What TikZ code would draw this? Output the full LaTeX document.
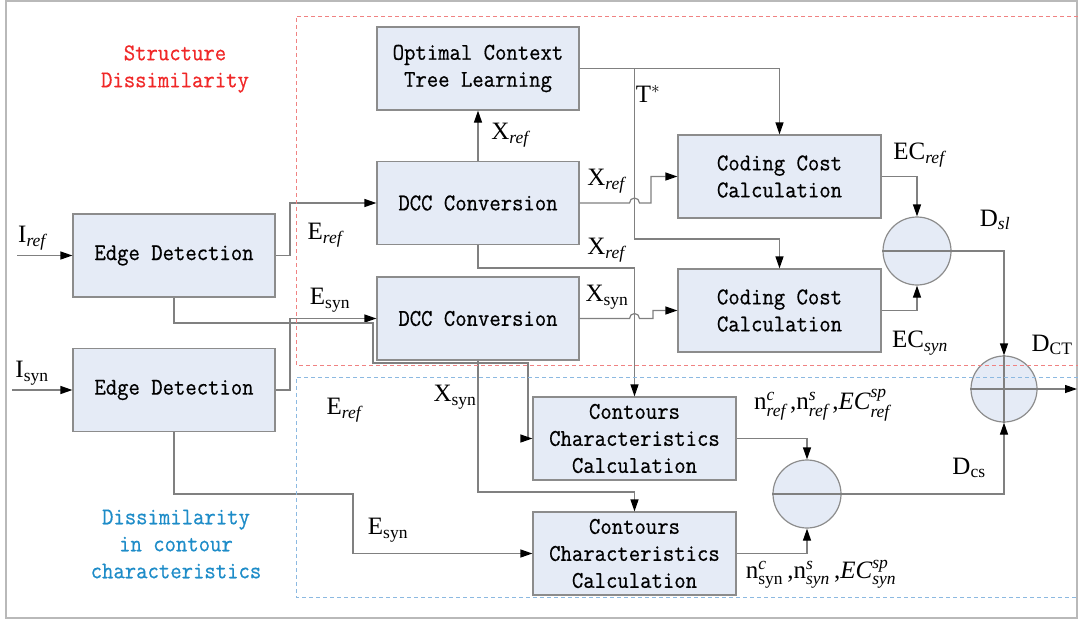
\documentclass[tikz,border=0pt]{standalone}
\usepackage{amsmath}
\usepackage{fontspec}
\setmainfont{Liberation Serif}
\newfontfamily\boxfont[FakeStretch=0.92,FakeBold=0.6]{Latin Modern Mono}
\usetikzlibrary{arrows.meta}
\definecolor{boxfill}{RGB}{229,235,246}
\definecolor{boxdraw}{RGB}{140,140,140}
\definecolor{linec}{RGB}{128,128,128}
\definecolor{redd}{RGB}{240,130,130}
\definecolor{blued}{RGB}{140,185,225}
\definecolor{redtxt}{RGB}{240,40,40}
\definecolor{bluetxt}{RGB}{30,140,200}
\definecolor{framec}{RGB}{185,185,185}
\newcommand{\sbs}[2]{$\text{#1}_{\text{#2}}$}
\begin{document}
\begin{tikzpicture}[x=1pt,y=-1pt,
 blk/.style={draw=boxdraw, line width=1.2pt, fill=boxfill, minimum width=202pt, minimum height=83pt, align=center, inner sep=0pt, font=\boxfont\fontsize{24}{27}\selectfont},
 sumc/.style={circle, draw=boxdraw, line width=1.2pt, fill=boxfill, minimum size=68pt, inner sep=0pt},
 conn/.style={draw=linec, line width=1.2pt},
 arr/.style={conn, -{Triangle[length=12pt,width=8pt,color=black]}},
 lab/.style={font=\fontsize{25}{28}\selectfont, inner sep=0pt},
 grp/.style={font=\boxfont\fontsize{24}{27}\selectfont, align=center, inner sep=0pt},
]
\useasboundingbox (0,0) rectangle (1078,621);
\draw[framec, line width=2pt] (6,1) rectangle (1077,618);

% blocks
\node[blk] (opt) at (478,68.5) {Optimal Context\\Tree Learning};
\node[blk] (dcc1) at (478,203) {DCC Conversion};
\node[blk] (dcc2) at (478,318.5) {DCC Conversion};
\node[blk, minimum width=203pt] (cc1) at (779.5,176.5) {Coding Cost\\Calculation};
\node[blk, minimum width=203pt] (cc2) at (779.5,310.5) {Coding Cost\\Calculation};
\node[blk] (ed1) at (174,255.5) {Edge Detection};
\node[blk] (ed2) at (174,390) {Edge Detection};
\node[blk, minimum width=203pt] (ct1) at (634.5,438.5) {Contours\\Characteristics\\Calculation};
\node[blk, minimum width=203pt] (ct2) at (634.5,553.5) {Contours\\Characteristics\\Calculation};

% summing circles
\node[sumc] (s1) at (917,251) {};
\node[sumc, minimum size=66pt] (sct) at (1004,389) {};
\node[sumc] (scs) at (807,494) {};
\draw[conn] (s1.west) -- (s1.east);
\draw[conn] (sct.west) -- (sct.east);
\draw[conn] (sct.north) -- (sct.south);
\draw[conn] (scs.west) -- (scs.east);

% group labels
\node[grp, text=redtxt] (sdl) at (175,69) {Structure\\Dissimilarity};
\node[grp, text=bluetxt] (dcl) at (176,544) {Dissimilarity\\in contour\\characteristics};

% inputs
\coordinate (iref) at (17,255.5);
\coordinate (isyn) at (12,390);
\coordinate (out) at (1077,389);
\draw[arr] (iref) -- (ed1.west);
\draw[arr] (isyn) -- (ed2.west);

% edge detection outputs
\draw[arr] (ed1.east) -- (290,255.5) |- (dcc1.west);
\draw[arr] (ed2.east) -- (290,390) |- (dcc2.west);
\draw[arr] (ed1.south) |- (373,323) |- (528,363) |- (ct1.west);
\draw[arr] (ed2.south) |- (353,494) |- (ct2.west);

% DCC outputs
\draw[arr] (dcc1.north) -- (opt.south);
\draw[arr] (dcc1.east) -- (629.5,203) arc[start angle=180,end angle=360,radius=5] -- (651,203) |- (cc1.west);
\draw[arr] (dcc2.east) -- (629.5,318.5) arc[start angle=180,end angle=360,radius=5] -- (653,318.5) |- (cc2.west);
\draw[arr] (dcc1.south) -- (478,268) -| (ct1.north);
\draw[arr] (dcc2.south) -- (478,492) -| (ct2.north);

% context tree
\draw[arr] (opt.east) -| (cc1.north);
\coordinate (tb) at (634.5,68.5);
\draw[arr] (tb) -- (634.5,239) -| (cc2.north);

% coding costs to sum
\draw[arr] (cc1.east) -| (s1.north);
\draw[arr] (cc2.east) -| (s1.south);
\draw[arr] (s1.east) -| (sct.north);
\draw[arr] (ct1.east) -| (scs.north);
\draw[arr] (ct2.east) -| (scs.south);
\draw[arr] (scs.east) -| (sct.south);
\draw[arr] (sct.east) -- (out);

% dashed regions
\draw[redd, line width=1pt, dash pattern=on 4pt off 3pt] (1078,16) -- (296,16) -- (296,365) -- (1078,365);
\draw[blued, line width=1pt, dash pattern=on 4pt off 3pt] (1078,377) -- (296,377) -- (296,597) -- (1078,597);

% labels
\node[lab] (lIref) at (33,238) {\sbs{I}{\textit{ref}}};
\node[lab] (lIsyn) at (32,373) {\sbs{I}{syn}};
\node[lab] (lEref1) at (326,235) {\sbs{E}{\textit{ref}}};
\node[lab] (lEsyn1) at (330,300) {\sbs{E}{syn}};
\node[lab] (lEref2) at (345,410) {\sbs{E}{\textit{ref}}};
\node[lab] (lEsyn2) at (388,530) {\sbs{E}{syn}};
\node[lab] (lXref0) at (511,135) {\sbs{X}{\textit{ref}}};
\node[lab] (lT) at (648,94) {$\text{T}^{*}$};
\node[lab] (lXref1) at (607,181) {\sbs{X}{\textit{ref}}};
\node[lab] (lXref2) at (607,250) {\sbs{X}{\textit{ref}}};
\node[lab] (lXsyn1) at (607,297) {\sbs{X}{syn}};
\node[lab] (lXsyn2) at (455,397) {\sbs{X}{syn}};
\node[lab] (lECref) at (920,155) {\sbs{EC}{\textit{ref}}};
\node[lab] (lECsyn) at (920,343) {\sbs{EC}{\textit{syn}}};
\node[lab] (lDsl) at (995,220) {\sbs{D}{\textit{sl}}};
\node[lab] (lDct) at (1052,345) {\sbs{D}{CT}};
\node[lab] (lDcs) at (969,468) {\sbs{D}{cs}};
\node[lab] (lnref) at (822,405) {$\text{n}^{\textit{c}}_{\textit{ref}}\text{\,,}\text{n}^{\textit{s}}_{\textit{ref}}\text{\,,}\textit{EC}^{\textit{sp}}_{\textit{ref}}$};
\node[lab] (lnsyn) at (821,574) {$\text{n}^{\textit{c}}_{\text{syn}}\text{\,,}\text{n}^{\textit{s}}_{\textit{syn}}\text{\,,}\textit{EC}^{\textit{sp}}_{\textit{syn}}$};
\end{tikzpicture}
\end{document}
